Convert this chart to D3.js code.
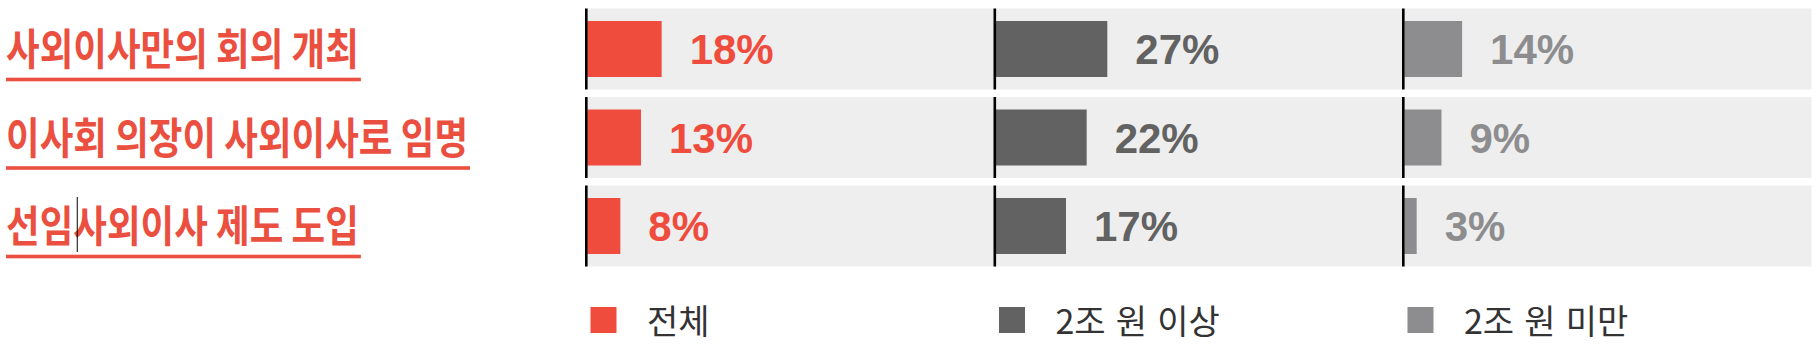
<!DOCTYPE html>
<html>
<head>
<meta charset="utf-8">
<script src="https://cdn.jsdelivr.net/npm/d3@7"></script>
<style>
  html, body { margin: 0; padding: 0; background: #ffffff; }
  svg { display: block; }
</style>
</head>
<body>
<div id="chart"></div>
<script>
// ---- data ----
const categories = ["사외이사만의 회의 개최", "이사회 의장이 사외이사로 임명", "선임사외이사 제도 도입"];
const seriesNames = ["전체", "2조 원 이상", "2조 원 미만"];
const totalValues = [18, 13, 8];
const largeValues = [27, 22, 17];
const smallValues = [14, 9, 3];
const seriesValues = [totalValues, largeValues, smallValues];

// ---- style ----
const W = 1818, H = 346;
const barColors = ["#F04C3D", "#626262", "#8D8D8F"];
const labelRed = "#EA4F3F";
const bgGray = "#EEEEEE";
const catFont = "'Noto Sans CJK KR', 'Noto Sans', sans-serif";
const numFont = "'Liberation Sans', Arial, Helvetica, sans-serif";

const svg = d3.select("#chart").append("svg")
  .attr("width", W).attr("height", H)
  .attr("viewBox", `0 0 ${W} ${H}`);

const y = d3.scaleBand().domain(categories).range([8.5, 266.5]).paddingInner(0.085);
const panel = d3.scaleBand().domain(seriesNames).range([586, 1811.5]);
const x = d3.scaleLinear().domain([0, 100]).range([0, 413]);
const bw = y.bandwidth();
const barH = 56;
const center = c => y(c) + bw / 2;

// ---- category labels ----
const catG = svg.append("g");
categories.forEach((c, i) => {
  const t = catG.append("text")
    .attr("x", 6)
    .attr("y", center(c) + 16)
    .attr("font-family", catFont)
    .attr("font-weight", 700)
    .attr("font-size", 43)
    .attr("fill", labelRed)
    .text(c);
  const natural = t.node().getComputedTextLength();
  const sub2 = t.node().getSubStringLength(0, 2);
  const squeeze = 0.85;
  const len = natural * squeeze;
  t.attr("textLength", len).attr("lengthAdjust", "spacingAndGlyphs");
  catG.append("rect")
    .attr("x", 6)
    .attr("y", center(c) + 28.7)
    .attr("width", len + 2)
    .attr("height", 3.6)
    .attr("fill", labelRed);
  if (i === 2) {
    // text cursor artefact visible in the reference
    catG.append("line")
      .attr("x1", 6 + sub2 * squeeze + 4).attr("x2", 6 + sub2 * squeeze + 4)
      .attr("y1", center(c) - 29).attr("y2", center(c) + 26)
      .attr("stroke", "#000").attr("stroke-width", 1);
  }
});

// ---- panels ----
seriesNames.forEach((s, si) => {
  const g = svg.append("g");
  const x0 = panel(s);
  g.selectAll("rect.bg").data(categories).join("rect")
    .attr("class", "bg")
    .attr("x", x0).attr("y", d => y(d))
    .attr("width", panel.step()).attr("height", bw)
    .attr("fill", bgGray);
  g.selectAll("rect.bar").data(categories).join("rect")
    .attr("class", "bar")
    .attr("x", x0 + 1.3)
    .attr("y", d => center(d) - barH / 2)
    .attr("width", (d, i) => x(seriesValues[si][i]))
    .attr("height", barH)
    .attr("fill", barColors[si]);
  g.selectAll("rect.axis").data(categories).join("rect")
    .attr("class", "axis")
    .attr("x", x0 - 1).attr("y", d => y(d))
    .attr("width", 2.6).attr("height", bw)
    .attr("fill", "#000");
  g.selectAll("text.val").data(categories).join("text")
    .attr("class", "val")
    .attr("x", (d, i) => x0 + 1.3 + x(seriesValues[si][i]) + 28)
    .attr("y", d => center(d) + 15)
    .attr("font-family", numFont)
    .attr("font-weight", 700)
    .attr("font-size", 42)
    .attr("fill", barColors[si])
    .text((d, i) => seriesValues[si][i] + "%");
  // legend
  g.append("rect")
    .attr("x", x0 + 4.5).attr("y", 307)
    .attr("width", 26).attr("height", 26)
    .attr("fill", barColors[si]);
  g.append("text")
    .attr("x", x0 + 61).attr("y", 334)
    .attr("font-family", catFont)
    .attr("font-weight", 400)
    .attr("font-size", 34)
    .attr("word-spacing", 2.5)
    .attr("fill", "#333333")
    .text(s);
});
</script>
</body>
</html>
